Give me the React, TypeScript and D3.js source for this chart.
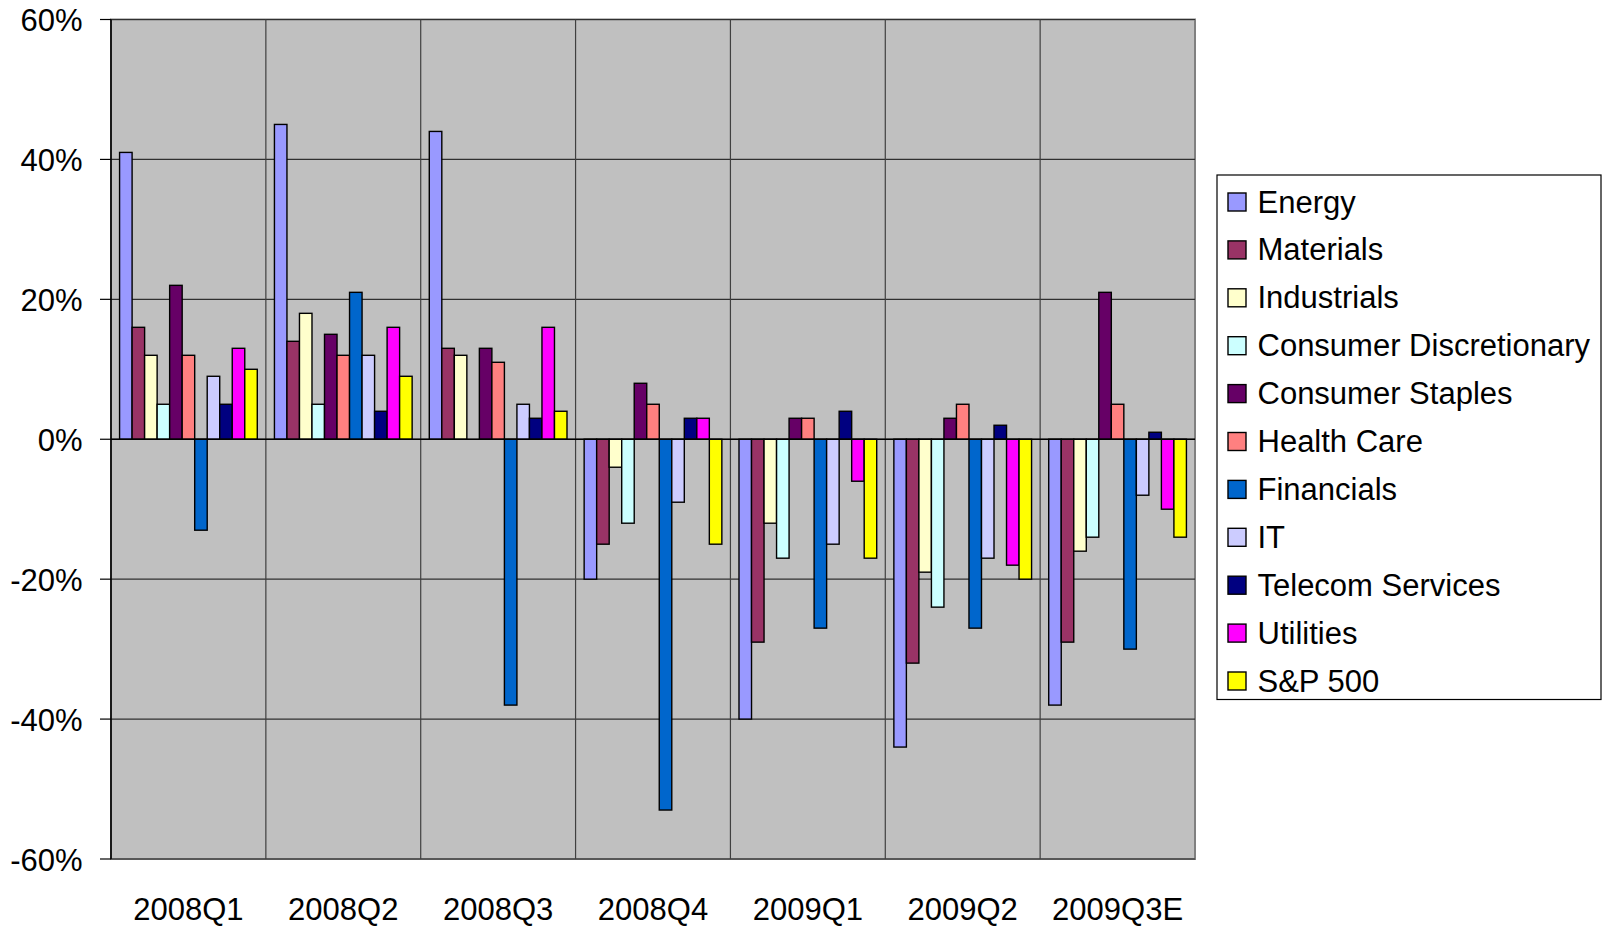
import React from "react";
import * as d3 from "d3";

const categories = ["2008Q1", "2008Q2", "2008Q3", "2008Q4", "2009Q1", "2009Q2", "2009Q3E"];
const seriesNames = [
  "Energy",
  "Materials",
  "Industrials",
  "Consumer Discretionary",
  "Consumer Staples",
  "Health Care",
  "Financials",
  "IT",
  "Telecom Services",
  "Utilities",
  "S&P 500",
];
const seriesColors = [
  "#9999FF",
  "#993366",
  "#FFFFCC",
  "#CCFFFF",
  "#660066",
  "#FF8080",
  "#0066CC",
  "#CCCCFF",
  "#000080",
  "#FF00FF",
  "#FFFF00",
];
// values in percent, one array per series, ordered by category
const energy = [41, 45, 44, -20, -40, -44, -38];
const materials = [16, 14, 13, -15, -29, -32, -29];
const industrials = [12, 18, 12, -4, -12, -19, -16];
const consumerDiscretionary = [5, 5, 0, -12, -17, -24, -14];
const consumerStaples = [22, 15, 13, 8, 3, 3, 21];
const healthCare = [12, 12, 11, 5, 3, 5, 5];
const financials = [-13, 21, -38, -53, -27, -27, -30];
const it = [9, 12, 5, -9, -15, -17, -8];
const telecom = [5, 4, 3, 3, 4, 2, 1];
const utilities = [13, 16, 16, 3, -6, -18, -10];
const sp500 = [10, 9, 4, -15, -17, -20, -14];
const seriesValues = [
  energy,
  materials,
  industrials,
  consumerDiscretionary,
  consumerStaples,
  healthCare,
  financials,
  it,
  telecom,
  utilities,
  sp500,
];
const yTicks = [-60, -40, -20, 0, 20, 40, 60];

const W = 1613;
const H = 928;
const plot = { left: 111, right: 1195, top: 19.5, bottom: 859 };
const FONT = "'Liberation Sans', Arial, Helvetica, sans-serif";

export default function App() {
  const x0 = d3.scaleBand<string>().domain(categories).range([plot.left, plot.right]).padding(0);
  const x1 = d3
    .scaleBand<string>()
    .domain(seriesNames)
    .range([0, x0.bandwidth()])
    .paddingInner(0)
    .paddingOuter(0.685);
  const y = d3.scaleLinear().domain([-60, 60]).range([plot.bottom, plot.top]);

  const legend = { x: 1217, y: 175, w: 384, h: 524.5, firstRow: 202, rowStep: 47.9 };

  return (
    <svg
      width={W}
      height={H}
      style={{ position: "absolute", left: 0, top: 0, background: "#fff" }}
      fontFamily={FONT}
    >
      <rect
        x={plot.left}
        y={plot.top}
        width={plot.right - plot.left}
        height={plot.bottom - plot.top}
        fill="#C0C0C0"
        stroke="#808080"
        strokeWidth={2}
      />
      {yTicks.map((t) => (
        <line
          key={"g" + t}
          x1={plot.left}
          x2={plot.right}
          y1={y(t)}
          y2={y(t)}
          stroke="#303030"
          strokeWidth={1.2}
        />
      ))}
      {categories.slice(1).map((c) => (
        <line
          key={"v" + c}
          x1={x0(c)!}
          x2={x0(c)!}
          y1={plot.top}
          y2={plot.bottom}
          stroke="#404040"
          strokeWidth={1.2}
        />
      ))}
      {categories.map((c, ci) => (
        <g key={c} transform={`translate(${x0(c)},0)`}>
          {seriesNames.map((s, si) => {
            const v = seriesValues[si][ci];
            if (v === 0) return null;
            const y0 = y(0);
            const yv = y(v);
            return (
              <rect
                key={s}
                x={x1(s)!}
                y={Math.min(y0, yv)}
                width={x1.bandwidth()}
                height={Math.abs(yv - y0)}
                fill={seriesColors[si]}
                stroke="#000"
                strokeWidth={1.4}
              />
            );
          })}
        </g>
      ))}
      <line x1={plot.left} x2={plot.right} y1={y(0)} y2={y(0)} stroke="#000" strokeWidth={1.4} />
      <line x1={plot.left} x2={plot.left} y1={plot.top} y2={plot.bottom} stroke="#000" strokeWidth={1.6} />
      {yTicks.map((t) => (
        <g key={"t" + t}>
          <line x1={100} x2={plot.left} y1={y(t)} y2={y(t)} stroke="#000" strokeWidth={1.2} />
          <text x={82.5} y={y(t) + 11.5} textAnchor="end" fontSize={31} fill="#000">
            {`${t}%`}
          </text>
        </g>
      ))}
      {categories.map((c) => (
        <text
          key={"l" + c}
          x={x0(c)! + x0.bandwidth() / 2}
          y={920}
          textAnchor="middle"
          fontSize={31}
          fill="#000"
        >
          {c}
        </text>
      ))}
      <rect x={legend.x} y={legend.y} width={legend.w} height={legend.h} fill="#fff" stroke="#000" strokeWidth={1.2} />
      {seriesNames.map((s, i) => {
        const cy = legend.firstRow + i * legend.rowStep;
        return (
          <g key={"lg" + s}>
            <rect x={1228} y={cy - 9} width={18} height={18} fill={seriesColors[i]} stroke="#000" strokeWidth={1.4} />
            <text x={1257.5} y={cy + 10.5} fontSize={31} fill="#000">
              {s}
            </text>
          </g>
        );
      })}
    </svg>
  );
}
